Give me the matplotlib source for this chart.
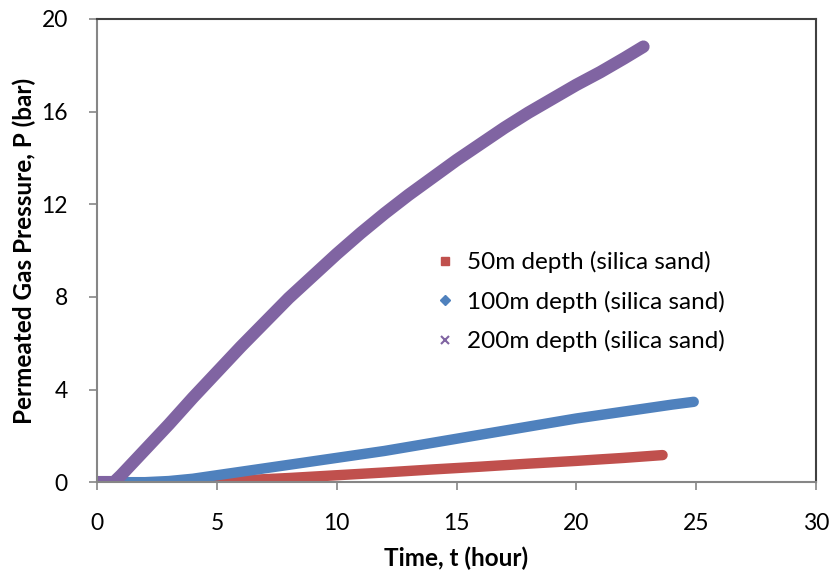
import matplotlib.pyplot as plt
from matplotlib.lines import Line2D

plt.rcParams['font.family'] = ['Lato', 'DejaVu Sans']

# 50m depth (silica sand)
t_50 = [0, 2, 4, 5, 6, 8, 10, 12, 14, 16, 18, 20, 22, 23.6]
p_50 = [0, 0, 0, 0.02, 0.08, 0.18, 0.3, 0.42, 0.55, 0.67, 0.8, 0.92, 1.05, 1.17]

# 100m depth (silica sand)
t_100 = [0, 2, 3, 4, 5, 6, 7, 8, 9, 10, 12, 14, 16, 18, 20, 22, 24, 24.9]
p_100 = [0, 0, 0.05, 0.15, 0.3, 0.45, 0.6, 0.75, 0.9, 1.05, 1.35, 1.7, 2.05,
         2.4, 2.75, 3.05, 3.35, 3.47]

# 200m depth (silica sand)
t_200 = [0, 0.7, 1, 2, 3, 4, 5, 6, 7, 8, 9, 10, 11, 12, 13, 14, 15, 16, 17,
         18, 19, 20, 21, 22, 22.8]
p_200 = [0, 0, 0.3, 1.4, 2.5, 3.65, 4.75, 5.85, 6.9, 7.95, 8.9, 9.85,
         10.75, 11.6, 12.4, 13.15, 13.9, 14.6, 15.3, 15.95, 16.55, 17.15,
         17.7, 18.3, 18.8]

labels = ['50m depth (silica sand)', '100m depth (silica sand)',
          '200m depth (silica sand)']
colors = ['#C0504D', '#4F81BD', '#8064A2']
markers = ['s', 'D', 'x']

fig = plt.figure(figsize=(8.3, 5.72), dpi=100)
ax = fig.add_axes([0.117, 0.157, 0.866, 0.81])

ax.plot(t_50, p_50, color=colors[0], lw=7.5, solid_capstyle='round',
        solid_joinstyle='round')
ax.plot(t_100, p_100, color=colors[1], lw=7.5, solid_capstyle='round',
        solid_joinstyle='round')
ax.plot(t_200, p_200, color=colors[2], lw=9, solid_capstyle='round',
        solid_joinstyle='round')

ax.set_xlim(0, 30)
ax.set_ylim(0, 20)
ax.set_xticks([0, 5, 10, 15, 20, 25, 30])
ax.set_yticks([0, 4, 8, 12, 16, 20])
ax.tick_params(direction='out', length=6, width=1.2, color='#868686',
               labelsize=16.5)
ax.tick_params(axis='x', pad=16)
ax.tick_params(axis='y', pad=15)

for side in ['left', 'bottom']:
    ax.spines[side].set_color('#868686')
    ax.spines[side].set_linewidth(1.5)
for side in ['top', 'right']:
    ax.spines[side].set_color('#404040')
    ax.spines[side].set_linewidth(1.5)

ax.set_xlabel('Time, t (hour)', fontsize=17.5, fontweight='bold', labelpad=9)
ax.set_ylabel('Permeated Gas Pressure, P (bar)', fontsize=17.5,
              fontweight='bold', labelpad=4)

handles = [Line2D([], [], ls='none', marker=m, color=c, markersize=5.5,
                  markeredgewidth=1.5 if m == 'x' else 1)
           for m, c in zip(markers, colors)]
ax.legend(handles, labels, loc='upper left', bbox_to_anchor=(0.457, 0.52),
          frameon=False, fontsize=17.5, handlelength=0.8, handletextpad=0.5,
          labelspacing=0.72, borderaxespad=0)

fig.savefig('out.png', dpi=100)
